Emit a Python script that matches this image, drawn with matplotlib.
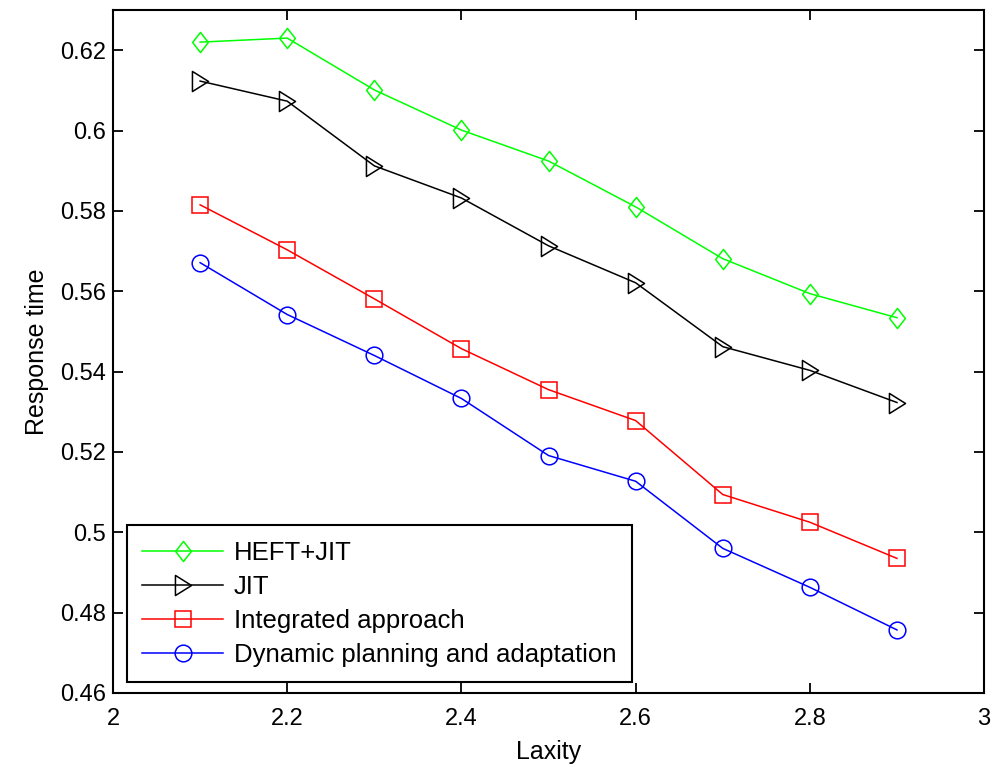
import matplotlib
matplotlib.use("Agg")
import matplotlib.pyplot as plt
from matplotlib.path import Path

laxity = [2.1, 2.2, 2.3, 2.4, 2.5, 2.6, 2.7, 2.8, 2.9]
heft_jit = [0.6220, 0.6230, 0.6101, 0.6001, 0.5924, 0.5810, 0.5681, 0.5594, 0.5534]
jit = [0.6123, 0.6073, 0.5912, 0.5832, 0.5713, 0.5621, 0.5462, 0.5403, 0.5323]
integrated = [0.5815, 0.5703, 0.5581, 0.5457, 0.5355, 0.5278, 0.5094, 0.5025, 0.4935]
dynamic = [0.5671, 0.5542, 0.5440, 0.5333, 0.5191, 0.5127, 0.4960, 0.4863, 0.4757]

labels = ["HEFT+JIT", "JIT", "Integrated approach", "Dynamic planning and adaptation"]
xticks = [2, 2.2, 2.4, 2.6, 2.8, 3]
yticks = [0.46, 0.48, 0.5, 0.52, 0.54, 0.56, 0.58, 0.6, 0.62]
xtick_labels = ["2", "2.2", "2.4", "2.6", "2.8", "3"]
ytick_labels = ["0.46", "0.48", "0.5", "0.52", "0.54", "0.56", "0.58", "0.6", "0.62"]

plt.rcParams['font.family'] = ['Liberation Sans', 'DejaVu Sans']
fig = plt.figure(figsize=(9.94, 7.67), dpi=100)
ax = fig.add_axes([0.1137, 0.0965, 0.8763, 0.8905])

diamond = Path([(0, 1), (0.78, 0), (0, -1), (-0.78, 0), (0, 1)],
               [Path.MOVETO, Path.LINETO, Path.LINETO, Path.LINETO, Path.CLOSEPOLY])
tri_right = Path([(-0.8, 1), (0.8, 0), (-0.8, -1), (-0.8, 1)],
                 [Path.MOVETO, Path.LINETO, Path.LINETO, Path.CLOSEPOLY])

styles = [
    (heft_jit, '#00ff00', diamond, 14.5),
    (jit, 'black', tri_right, 14.5),
    (integrated, 'red', 's', 11),
    (dynamic, 'blue', 'o', 12),
]
for (vals, col, mk, ms), lab in zip(styles, labels):
    ax.plot(laxity, vals, color=col, marker=mk, markersize=ms,
            markerfacecolor='none', markeredgecolor=col, linewidth=1.1,
            markeredgewidth=1.1, label=lab)

ax.set_xlim(2, 3)
ax.set_ylim(0.46, 0.63)
ax.set_xticks(xticks)
ax.set_xticklabels(xtick_labels)
ax.set_yticks(yticks)
ax.set_yticklabels(ytick_labels)
ax.tick_params(direction='in', top=True, right=True, length=7, width=1.3,
               labelsize=17)
ax.tick_params(axis='y', pad=5)
ax.tick_params(axis='x', pad=11)
for s in ax.spines.values():
    s.set_linewidth(1.5)
ax.set_xlabel("Laxity", fontsize=18, labelpad=7)
ax.set_ylabel("Response time", fontsize=18, labelpad=8)

leg = ax.legend(loc='lower left', bbox_to_anchor=(0.0161, 0.0161),
                borderaxespad=0, fontsize=18.5, frameon=True, fancybox=False,
                edgecolor='black', framealpha=1, handlelength=3.15,
                labelspacing=0.39, borderpad=0.6, handletextpad=0.4)
leg.get_frame().set_linewidth(1.5)

fig.savefig("out.png", dpi=100)
